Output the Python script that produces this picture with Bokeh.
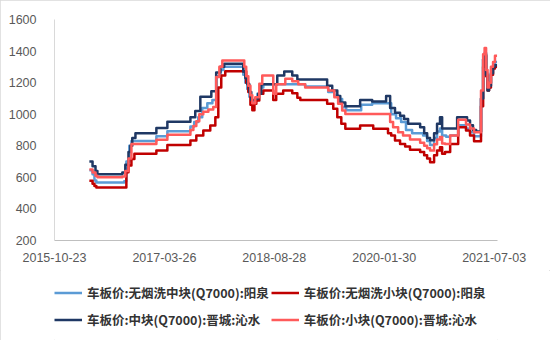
import pandas as pd
from bokeh.plotting import figure
from bokeh.layouts import column
from bokeh.models import (FixedTicker, DatetimeTickFormatter, Legend, LegendItem,
                          Range1d)
from bokeh.embed import file_html
from bokeh.resources import INLINE

# ---------------- data ----------------
tick_dates = ["2015-10-23", "2017-03-26", "2018-08-28", "2020-01-30", "2021-07-03"]
y_ticks = [200, 400, 600, 800, 1000, 1200, 1400, 1600]

names = ["车板价:无烟洗中块(Q7000):阳泉", "车板价:无烟洗小块(Q7000):阳泉",
         "车板价:中块(Q7000):晋城:沁水", "车板价:小块(Q7000):晋城:沁水"]

yq_mid_dates = ["2016-04-05", "2016-04-20", "2016-04-29", "2016-05-08", "2016-09-17", "2016-09-27",
                "2016-10-11", "2016-10-21", "2017-02-16", "2017-04-09", "2017-07-27", "2017-08-14",
                "2017-09-02", "2017-09-21", "2017-10-15", "2017-11-08", "2017-11-26", "2017-12-16",
                "2017-12-30", "2018-04-03", "2018-04-13", "2018-04-22", "2018-05-02", "2018-05-11",
                "2018-05-26", "2018-06-09", "2018-06-23", "2018-07-07", "2019-01-21", "2019-05-10",
                "2019-06-08", "2019-06-26", "2019-07-15", "2019-08-03", "2019-10-13", "2019-12-04",
                "2020-03-03", "2020-03-26", "2020-04-19", "2020-05-12", "2020-06-10", "2020-08-01",
                "2020-08-20", "2020-09-03", "2020-09-22", "2020-10-06", "2020-10-20", "2020-10-30",
                "2020-11-18", "2020-12-07", "2021-01-14", "2021-02-20", "2021-03-11", "2021-03-30",
                "2021-05-02", "2021-05-12", "2021-05-19", "2021-05-26", "2021-06-02", "2021-06-09",
                "2021-06-18", "2021-06-28", "2021-07-07", "2021-07-17"]
yq_mid_vals = [645, 620, 580, 568, 575, 700,
               800, 830, 860, 892, 922, 950,
               980, 1040, 1070, 1090, 1240, 1280,
               1300, 1250, 1200, 1160, 1110, 1080,
               1090, 1130, 1170, 1190, 1175, 1140,
               1118, 1097, 1044, 1025, 1060, 1070,
               1000, 975, 950, 900, 880, 865,
               830, 805, 850, 890, 910, 865,
               858, 865, 930, 908, 886, 860,
               1100, 1350, 1390, 1260, 1170, 1200,
               1280, 1310, 1330, 1330]

yq_small_dates = ["2016-04-05", "2016-04-20", "2016-04-29", "2016-05-08", "2016-09-27", "2016-10-07",
                  "2016-10-21", "2016-11-04", "2017-02-16", "2017-04-09", "2017-07-27", "2017-08-24",
                  "2017-09-26", "2017-10-29", "2017-11-22", "2017-12-06", "2017-12-20", "2018-01-08",
                  "2018-04-17", "2018-04-27", "2018-05-07", "2018-05-16", "2018-05-26", "2018-06-04",
                  "2018-06-18", "2018-07-07", "2018-08-23", "2018-09-06", "2018-10-09", "2018-11-21",
                  "2018-12-15", "2018-12-29", "2019-05-05", "2019-06-03", "2019-06-22", "2019-07-11",
                  "2019-07-30", "2019-10-08", "2019-12-09", "2020-02-17", "2020-03-03", "2020-03-21",
                  "2020-04-14", "2020-05-08", "2020-05-31", "2020-07-18", "2020-08-06", "2020-08-20",
                  "2020-09-03", "2020-09-22", "2020-10-06", "2020-10-20", "2020-10-30", "2020-11-13",
                  "2020-12-07", "2021-01-14", "2021-02-20", "2021-03-11", "2021-03-30", "2021-05-02",
                  "2021-05-12", "2021-05-19", "2021-05-26", "2021-06-02", "2021-06-09", "2021-06-18",
                  "2021-06-28", "2021-07-07", "2021-07-17"]
yq_small_vals = [578, 560, 545, 535, 633, 675,
                 717, 749, 770, 805, 833, 865,
                 897, 928, 980, 1170, 1245, 1272,
                 1200, 1140, 1060, 1025, 1066, 1087,
                 1130, 1150, 1090, 1130, 1150, 1133,
                 1105, 1090, 1066, 1034, 981, 939,
                 908, 928, 908, 880, 865, 833,
                 812, 795, 775, 760, 740, 720,
                 696, 740, 770, 791, 749, 760,
                 812, 918, 897, 865, 828, 1050,
                 1300, 1370, 1240, 1150, 1170, 1250,
                 1290, 1300, 1300]

jc_mid_dates = ["2016-04-05", "2016-04-20", "2016-05-04", "2016-05-13", "2016-09-08", "2016-09-22",
                "2016-10-07", "2016-10-16", "2016-10-25", "2016-11-09", "2017-02-16", "2017-04-09",
                "2017-07-27", "2017-08-19", "2017-09-12", "2017-11-03", "2017-11-26", "2017-12-16",
                "2018-01-03", "2018-04-03", "2018-04-13", "2018-04-22", "2018-05-02", "2018-05-11",
                "2018-05-30", "2018-06-13", "2018-06-27", "2018-09-11", "2018-10-14", "2018-11-21",
                "2018-12-15", "2019-05-05", "2019-05-29", "2019-06-22", "2019-07-06", "2019-07-30",
                "2019-10-08", "2019-12-04", "2020-02-08", "2020-02-27", "2020-03-21", "2020-04-14",
                "2020-05-03", "2020-05-22", "2020-07-18", "2020-08-06", "2020-08-20", "2020-09-03",
                "2020-09-22", "2020-10-06", "2020-10-20", "2020-10-30", "2021-01-09", "2021-02-25",
                "2021-03-11", "2021-03-25", "2021-04-09", "2021-05-02", "2021-05-12", "2021-05-19",
                "2021-05-26", "2021-06-02", "2021-06-09", "2021-06-18", "2021-06-28", "2021-07-07",
                "2021-07-17"]
jc_mid_vals = [700, 670, 640, 620, 630, 680,
               760, 800, 850, 880, 912, 952,
               980, 1020, 1110, 1145, 1265, 1300,
               1320, 1270, 1230, 1190, 1140, 1090,
               1100, 1130, 1190, 1245, 1270, 1245,
               1220, 1180, 1150, 1115, 1075, 1050,
               1090, 1080, 1115, 1040, 1010, 990,
               970, 940, 918, 880, 850, 835,
               880, 940, 980, 910, 980, 960,
               930, 900, 890, 1100, 1350, 1380,
               1250, 1150, 1180, 1260, 1300, 1310,
               1310]

jc_small_dates = ["2016-04-05", "2016-04-20", "2016-05-04", "2016-05-13", "2016-09-08", "2016-09-22",
                  "2016-10-07", "2016-10-21", "2017-02-16", "2017-04-09", "2017-07-27", "2017-08-10",
                  "2017-08-24", "2017-09-07", "2017-09-26", "2017-10-20", "2017-11-12", "2017-11-26",
                  "2017-12-11", "2017-12-25", "2018-04-08", "2018-04-17", "2018-04-27", "2018-05-07",
                  "2018-05-16", "2018-05-30", "2018-06-18", "2018-07-02", "2018-08-23", "2018-09-06",
                  "2018-10-19", "2018-11-21", "2018-12-19", "2019-01-21", "2019-05-10", "2019-06-08",
                  "2019-06-26", "2019-07-15", "2019-07-30", "2020-02-27", "2020-03-12", "2020-04-05",
                  "2020-04-28", "2020-05-31", "2020-07-18", "2020-08-06", "2020-08-20", "2020-09-03",
                  "2020-09-22", "2020-10-06", "2020-10-20", "2020-10-30", "2020-11-13", "2020-12-07",
                  "2021-01-14", "2021-02-20", "2021-03-11", "2021-03-30", "2021-05-02", "2021-05-12",
                  "2021-05-19", "2021-05-26", "2021-06-02", "2021-06-09", "2021-06-18", "2021-06-28",
                  "2021-07-07", "2021-07-17"]
jc_small_vals = [650, 630, 610, 600, 605, 640,
                 720, 812, 838, 870, 900, 925,
                 955, 1000, 1015, 1030, 1045, 1235,
                 1300, 1340, 1300, 1240, 1180, 1120,
                 1070, 1108, 1193, 1245, 1130, 1190,
                 1224, 1209, 1190, 1170, 1150, 1108,
                 1066, 1023, 1002, 950, 918, 886,
                 865, 840, 820, 800, 785, 770,
                 810, 840, 855, 815, 812, 865,
                 965, 935, 910, 885, 1150, 1380,
                 1420, 1280, 1170, 1200, 1300, 1330,
                 1370, 1370]

x_start, x_end = "2015-10-23", "2021-07-19"

# ---------------- styling ----------------
colors = ["#5B9BD5", "#C00000", "#1F3864", "#FF5A5A"]
axis_font = "Liberation Sans"
cjk_font = "Noto Sans CJK SC"


def ms(d):
    return pd.Timestamp(d).value // 10**6


p = figure(width=550, height=270, x_axis_type="datetime", output_backend="svg",
           toolbar_location=None,
           x_range=Range1d(ms(x_start), ms(x_end)), y_range=Range1d(200, 1600),
           min_border_left=54, min_border_right=53, min_border_top=19, min_border_bottom=30)

p.xgrid.visible = False
p.ygrid.visible = False
p.outline_line_color = None
p.background_fill_color = "white"
p.border_fill_color = "white"

series = [(yq_mid_dates, yq_mid_vals), (yq_small_dates, yq_small_vals),
          (jc_mid_dates, jc_mid_vals), (jc_small_dates, jc_small_vals)]
for (d, v), c in zip(series, colors):
    p.step(pd.to_datetime(d), v, mode="after", line_color=c, line_width=2.5,
           line_join="round")

p.xaxis.ticker = FixedTicker(ticks=[ms(d) for d in tick_dates])
p.xaxis.formatter = DatetimeTickFormatter(days="%Y-%m-%d", months="%Y-%m-%d",
                                          years="%Y-%m-%d", hours="%Y-%m-%d")
p.yaxis.ticker = FixedTicker(ticks=y_ticks)

for ax in (p.xaxis[0], p.yaxis[0]):
    ax.major_tick_line_color = None
    ax.minor_tick_line_color = None
    ax.major_label_text_font = axis_font
    ax.major_label_text_font_size = "12.5px"
    ax.major_label_text_color = "#595959"
p.xaxis.axis_line_color = "#BFBFBF"
p.yaxis.axis_line_color = "#D9D9D9"
p.yaxis.major_label_standoff = 12
p.xaxis.major_label_standoff = 6

# ---------------- legend strip ----------------
q = figure(width=550, height=70, output_backend="svg", toolbar_location=None,
           x_axis_location=None, y_axis_location=None,
           x_range=Range1d(0, 1), y_range=Range1d(0, 1),
           min_border_left=0, min_border_right=0, min_border_top=0, min_border_bottom=0)
q.grid.visible = False
q.outline_line_color = None
q.border_fill_color = "white"
q.background_fill_color = "white"

items = []
for (d, v), n, c in zip(series, names, colors):
    # same series, lying far outside this strip's visible range; only the legend shows
    r = q.step(pd.to_datetime(d), v, mode="after", line_color=c, line_width=2.5)
    items.append(LegendItem(label=n, renderers=[r]))

legend = Legend(items=items, ncols=2, orientation="horizontal", location=(0, 8))
legend.label_text_font = cjk_font
legend.label_text_font_size = "12.5px"
legend.label_text_font_style = "bold"
legend.label_text_color = "#333333"
legend.glyph_width = 28
legend.label_standoff = 5
legend.spacing = 2
legend.label_height = 25
legend.glyph_height = 25
legend.padding = 0
legend.margin = 0
legend.border_line_color = None
legend.background_fill_alpha = 0
q.add_layout(legend)

layout = column(p, q, spacing=0)
layout.styles = {"outline": "1px solid #d9d9d9", "outline-offset": "-1px"}

open("out.html", "w").write(file_html(layout, INLINE))
